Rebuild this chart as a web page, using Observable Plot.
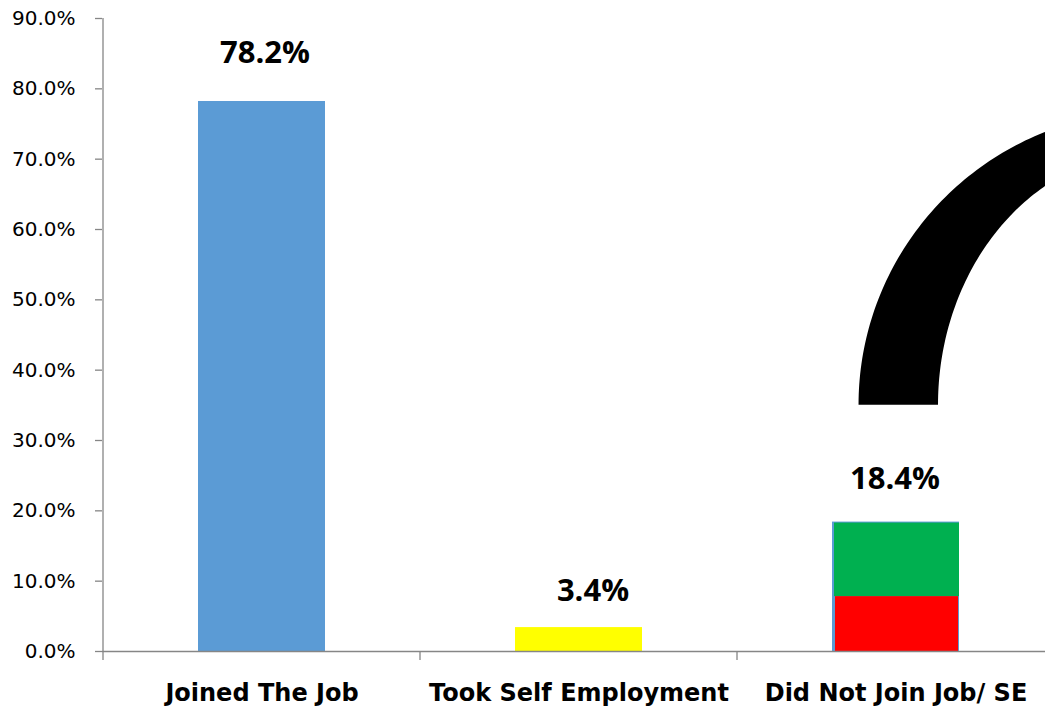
<!DOCTYPE html>
<html>
<head>
<meta charset="utf-8">
<script src="https://cdn.jsdelivr.net/npm/d3@7"></script>
<script src="https://cdn.jsdelivr.net/npm/@observablehq/plot@0.6"></script>
<style>
  html, body { margin: 0; padding: 0; background: #fff; overflow: hidden; }
  #chart svg { display: block; }
</style>
</head>
<body>
<div id="chart"></div>
<script>
// ---- data ----
const categories = ["Joined The Job", "Took Self Employment", "Did Not Join Job/ SE"];
const totals = [78.2, 3.4, 18.4];
const barColors = ["#5B9BD5", "#FFFF00", "#5B9BD5"];
const notJoinedParts = ["lower", "upper"];
const notJoinedValues = [7.8, 10.6];
const notJoinedColors = ["#FF0000", "#00B050"];
const yTicks = [0, 10, 20, 30, 40, 50, 60, 70, 80, 90];
const labelText = ["78.2%", "3.4%", "18.4%"];

// ---- decorative arc shape (in y-percent units, centre relative to 3rd band) ----
const arcShape = {centerSteps: 1.02, cy: 35.0, outerRx: 42.2, outerRy: 41.8, innerRx: 30.9, innerRy: 36.1};

const axisGray = "#868686";

const bars = categories.map((c, i) => ({category: c, value: totals[i], color: barColors[i], label: labelText[i]}));
let acc = 0;
const parts = notJoinedParts.map((p, i) => {
  const r = {category: categories[2], part: p, y1: acc, y2: acc + notJoinedValues[i], color: notJoinedColors[i]};
  acc += notJoinedValues[i];
  return r;
});

function bandInfo(x) {
  const step = x(categories[1]) - x(categories[0]);
  const bw = typeof x.bandwidth === "function" ? x.bandwidth() : (x.bandwidth ?? 0.4 * step);
  return {step, bw};
}

// y axis line + category separator ticks
function axisLines(index, scales) {
  const {x, y} = scales;
  const {step, bw} = bandInfo(x);
  const g = d3.create("svg:g").attr("stroke", axisGray).attr("stroke-width", 1.3).attr("fill", "none");
  const x0 = x(categories[0]) - (step - bw) / 2;
  g.append("line").attr("x1", x0).attr("x2", x0).attr("y1", y(90)).attr("y2", y(0));
  for (let i = 0; i <= categories.length; i++) {
    const bx = x0 + i * step;
    g.append("line").attr("x1", bx).attr("x2", bx).attr("y1", y(0)).attr("y2", y(0) + 9);
  }
  return g.node();
}

function arcMark(index, scales) {
  const {x, y} = scales;
  const {step} = bandInfo(x);
  const k = Math.abs(y(1) - y(0));
  const cx = x(categories[2]) + arcShape.centerSteps * step;
  const cy = y(arcShape.cy);
  const pts = [];
  const n = 90;
  for (let i = 0; i <= n; i++) {
    const t = (i / n) * Math.PI / 2;
    pts.push([cx - arcShape.outerRx * k * Math.cos(t), cy - arcShape.outerRy * k * Math.sin(t)]);
  }
  for (let i = n; i >= 0; i--) {
    const t = (i / n) * Math.PI / 2;
    pts.push([cx - arcShape.innerRx * k * Math.cos(t), cy - arcShape.innerRy * k * Math.sin(t)]);
  }
  const g = d3.create("svg:g");
  g.append("path").attr("d", "M" + pts.map(p => p.join(",")).join("L") + "Z").attr("fill", "#000");
  return g.node();
}

const plot = Plot.plot({
  width: 1045,
  height: 707,
  marginLeft: 102,
  marginRight: 0,
  marginTop: 18,
  marginBottom: 56,
  style: {fontFamily: "DejaVu Sans", background: "#fff", overflow: "hidden"},
  x: {domain: categories, range: [102, 1054.5], paddingInner: 0.6, paddingOuter: 0.3, axis: null, label: null},
  y: {domain: [0, 90], axis: null, label: null},
  marks: [
    Plot.barY(bars, {x: "category", y: "value", fill: "color"}),
    Plot.barY(parts.slice(1), {x: "category", y1: "y1", y2: "y2", fill: "color", insetLeft: 2, insetTop: 1}),
    Plot.barY(parts.slice(0, 1), {x: "category", y1: "y1", y2: "y2", fill: "color", insetLeft: 3, insetRight: 1}),
    Plot.ruleY([0], {stroke: axisGray, strokeWidth: 1.3}),
    axisLines,
    Plot.axisY({ticks: yTicks, tickFormat: d => d.toFixed(1) + "%", tickSize: 7, tickPadding: 20, label: null,
      fontSize: 20, fontFamily: "DejaVu Sans", stroke: axisGray, fill: "#000", strokeWidth: 1.3}),
    Plot.axisX({tickSize: 0, tickPadding: 32, label: null, fontSize: 24, fontWeight: "bold", fontFamily: "DejaVu Sans", fill: "#000"}),
    Plot.text(bars.slice(0, 1), {x: "category", y: "value", text: "label", dy: -48, dx: 3, fontSize: 31, fontWeight: "bold", fontFamily: "Open Sans", fill: "#000"}),
    Plot.text(bars.slice(1, 2), {x: "category", y: "value", text: "label", dy: -37, dx: 14, fontSize: 31, fontWeight: "bold", fontFamily: "Open Sans", fill: "#000"}),
    Plot.text(bars.slice(2, 3), {x: "category", y: "value", text: "label", dy: -43, dx: -1, fontSize: 31, fontWeight: "bold", fontFamily: "Open Sans", fill: "#000"}),
    arcMark
  ]
});
document.getElementById("chart").appendChild(plot);
</script>
</body>
</html>
